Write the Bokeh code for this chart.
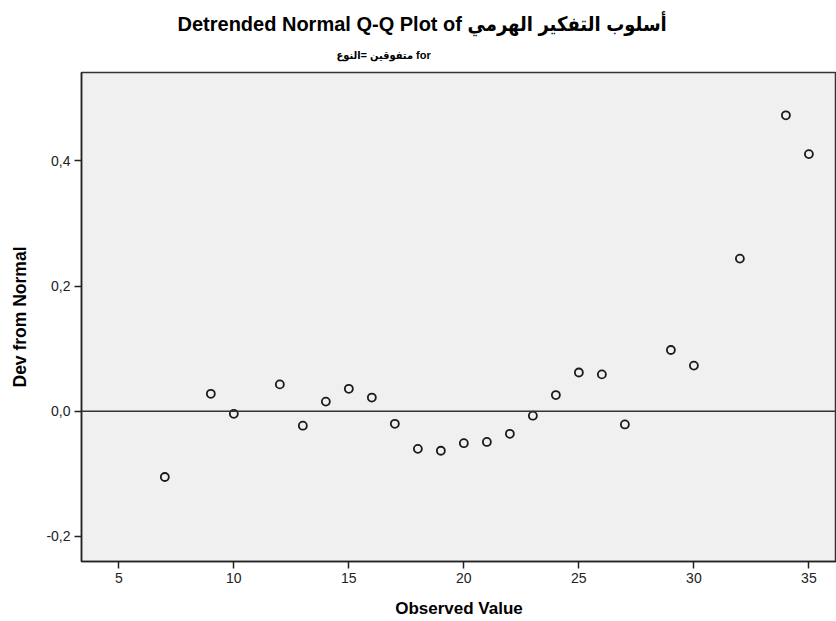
from bokeh.plotting import figure
from bokeh.models import Range1d, FixedTicker, CustomJSTickFormatter, Span, Title
from bokeh.embed import file_html
from bokeh.resources import INLINE

# data
observed = [7, 9, 10, 12, 13, 14, 15, 16, 17, 18, 19, 20, 21, 22, 23, 24, 25, 26, 27, 29, 30, 32, 34, 35]
dev_from_normal = [-0.105, 0.028, -0.004, 0.043, -0.023, 0.0155, 0.036, 0.022, -0.020, -0.060, -0.063,
                   -0.051, -0.049, -0.036, -0.007, 0.026, 0.062, 0.059, -0.021, 0.098, 0.073, 0.244,
                   0.473, 0.411]
x_ticks = [5, 10, 15, 20, 25, 30, 35]
y_ticks = [-0.2, 0.0, 0.2, 0.4]

title_text = "Detrended Normal Q-Q Plot of أسلوب التفكير الهرمي"
subtitle_text = "متفوقين =النوع for"

FONT = "'Liberation Sans', 'DejaVu Sans Condensed', 'DejaVu Sans', sans-serif"

p = figure(width=836, height=621, output_backend="svg", toolbar_location=None,
           x_range=Range1d(3.378, 36.2), y_range=Range1d(-0.24, 0.5414),
           min_border_left=81, min_border_right=0, min_border_top=72, min_border_bottom=60,
           title=None)

p.background_fill_color = "#f0f0f0"
p.border_fill_color = "white"
p.outline_line_color = "#333333"
p.outline_line_width = 1.5
p.grid.visible = False

sub = Title(text=subtitle_text, align="left", offset=255, text_font=FONT, standoff=24,
            text_font_size="11px", text_font_style="bold", text_color="black")
main = Title(text=title_text, align="left", offset=96, text_font=FONT, standoff=0,
             text_font_size="20px", text_font_style="bold", text_color="black")
p.add_layout(sub, "above")
p.add_layout(main, "above")

p.add_layout(Span(location=0, dimension="width", line_color="#333333", line_width=1.5))

p.scatter(observed, dev_from_normal, marker="circle", size=8, fill_color=None,
          line_color="#1a1a1a", line_width=1.8)

xa = p.xaxis[0]
xa.ticker = FixedTicker(ticks=x_ticks)
xa.axis_label = "Observed Value"
ya = p.yaxis[0]
ya.ticker = FixedTicker(ticks=y_ticks)
ya.formatter = CustomJSTickFormatter(code="return tick.toFixed(1).replace('.', ',');")
ya.axis_label = "Dev from Normal"

for ax in (xa, ya):
    ax.axis_line_color = "#222222"
    ax.axis_line_width = 1.5
    ax.major_tick_line_color = "#222222"
    ax.major_tick_line_width = 1.5
    ax.major_tick_out = 7
    ax.major_tick_in = 0
    ax.minor_tick_line_color = None
    ax.major_label_text_font = FONT
    ax.major_label_text_font_size = "14px"
    ax.major_label_text_color = "#222222"
    ax.axis_label_text_font = FONT
    ax.axis_label_text_font_style = "bold"
    ax.axis_label_text_color = "black"

xa.axis_label_text_font_size = "17px"
xa.major_label_standoff = 4
xa.axis_label_standoff = 13
ya.axis_label_text_font_size = "17.5px"
ya.major_label_standoff = 4
ya.axis_label_standoff = 13

open("out.html", "w").write(file_html(p, INLINE))
